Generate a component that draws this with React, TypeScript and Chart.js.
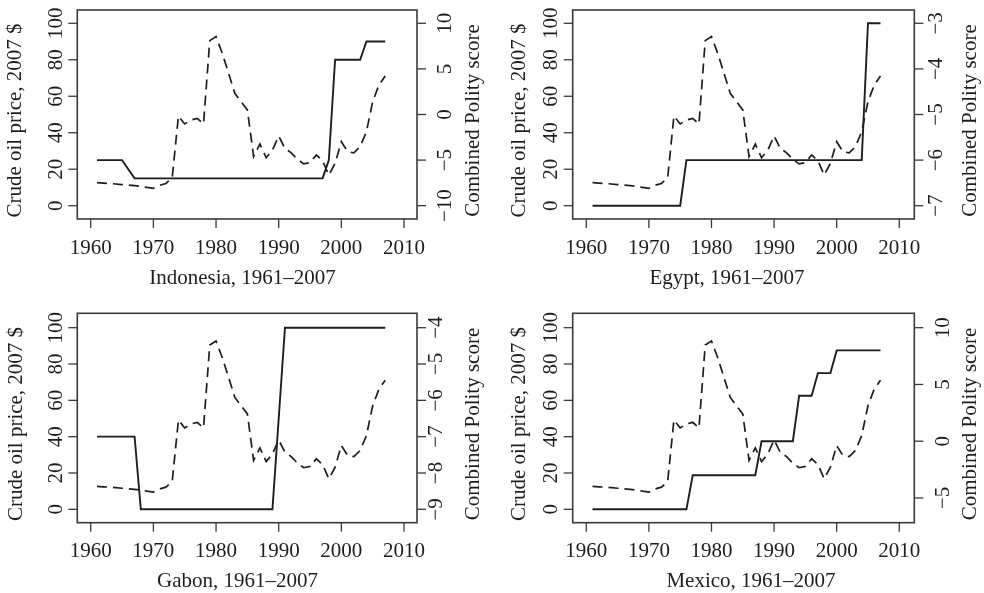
import React, { useEffect, useRef } from "react";
import { Chart, registerables } from "chart.js";

Chart.register(...registerables);

const years = [
  1961, 1962, 1963, 1964, 1965, 1966, 1967, 1968, 1969, 1970,
  1971, 1972, 1973, 1974, 1975, 1976, 1977, 1978, 1979, 1980,
  1981, 1982, 1983, 1984, 1985, 1986, 1987, 1988, 1989, 1990,
  1991, 1992, 1993, 1994, 1995, 1996, 1997, 1998, 1999, 2000,
  2001, 2002, 2003, 2004, 2005, 2006, 2007,
];

const oilPrice = [
  12.6, 12.4, 12.2, 11.9, 11.6, 11.3, 11.0, 10.6, 10.0, 9.5,
  11.2, 12.2, 15.2, 49.2, 44.8, 47.0, 47.9, 44.8, 90.5, 92.7,
  83.5, 72.6, 61.6, 57.0, 52.5, 26.9, 33.8, 26.3, 30.5, 38.2,
  31.4, 29.0, 25.4, 22.9, 23.6, 27.8, 24.7, 16.8, 23.2, 35.1,
  29.6, 29.0, 32.4, 40.6, 57.0, 66.2, 71.1,
];

const indonesiaPolity = [
  -5, -5, -5, -5, -5, -6, -7, -7, -7, -7,
  -7, -7, -7, -7, -7, -7, -7, -7, -7, -7,
  -7, -7, -7, -7, -7, -7, -7, -7, -7, -7,
  -7, -7, -7, -7, -7, -7, -7, -5, 6, 6,
  6, 6, 6, 8, 8, 8, 8,
];

const egyptPolity = [
  -7, -7, -7, -7, -7, -7, -7, -7, -7, -7,
  -7, -7, -7, -7, -7, -6, -6, -6, -6, -6,
  -6, -6, -6, -6, -6, -6, -6, -6, -6, -6,
  -6, -6, -6, -6, -6, -6, -6, -6, -6, -6,
  -6, -6, -6, -6, -3, -3, -3,
];

const gabonPolity = [
  -7, -7, -7, -7, -7, -7, -7, -9, -9, -9,
  -9, -9, -9, -9, -9, -9, -9, -9, -9, -9,
  -9, -9, -9, -9, -9, -9, -9, -9, -9, -6.5,
  -4, -4, -4, -4, -4, -4, -4, -4, -4, -4,
  -4, -4, -4, -4, -4, -4, -4,
];

const mexicoPolity = [
  -6, -6, -6, -6, -6, -6, -6, -6, -6, -6,
  -6, -6, -6, -6, -6, -6, -3, -3, -3, -3,
  -3, -3, -3, -3, -3, -3, -3, 0, 0, 0,
  0, 0, 0, 4, 4, 4, 6, 6, 6, 8,
  8, 8, 8, 8, 8, 8, 8,
];

const xTicks = [1960, 1970, 1980, 1990, 2000, 2010];
const leftTicks = [0, 20, 40, 60, 80, 100];
const indonesiaTicks = [-10, -5, 0, 5, 10];
const egyptTicks = [-7, -6, -5, -4, -3];
const gabonTicks = [-9, -8, -7, -6, -5, -4];
const mexicoTicks = [-5, 0, 5, 10];

const leftTitle = "Crude oil price, 2007 $";
const rightTitle = "Combined Polity score";

type Panel = {
  title: string;
  polity: number[];
  rightAt0: number;
  rightAt100: number;
  rightTicks: number[];
  cx: number;
  cy: number;
  w: number;
  h: number;
  box: { l: number; r: number; t: number; b: number };
  xMin: number;
  xMax: number;
  yMin: number;
  yMax: number;
  titleX: number;
  rightLabelOff: number;
  leftTitleOff: number;
};

const panels: Panel[] = [
  {
    title: "Indonesia, 1961–2007",
    polity: indonesiaPolity,
    rightAt0: -10,
    rightAt100: 10,
    rightTicks: indonesiaTicks,
    cx: 0, cy: 0, w: 492, h: 296,
    box: { l: 77.3, r: 417, t: 10, b: 219 },
    xMin: 1957.86, xMax: 2012.07, yMin: -7.29, yMax: 107.29,
    titleX: 242.5, rightLabelOff: 34, leftTitleOff: 56.6,
  },
  {
    title: "Egypt, 1961–2007",
    polity: egyptPolity,
    rightAt0: -7,
    rightAt100: -3,
    rightTicks: egyptTicks,
    cx: 492, cy: 0, w: 492, h: 296,
    box: { l: 80.7, r: 422.3, t: 10, b: 219 },
    xMin: 1957.83, xMax: 2012.4, yMin: -7.29, yMax: 107.29,
    titleX: 235, rightLabelOff: 28, leftTitleOff: 47.4,
  },
  {
    title: "Gabon, 1961–2007",
    polity: gabonPolity,
    rightAt0: -9,
    rightAt100: -4,
    rightTicks: gabonTicks,
    cx: 0, cy: 296, w: 492, h: 297,
    box: { l: 77.3, r: 417, t: 17.3, b: 226.7 },
    xMin: 1957.86, xMax: 2012.07, yMin: -7.38, yMax: 107.93,
    titleX: 237.5, rightLabelOff: 25, leftTitleOff: 55.6,
  },
  {
    title: "Mexico, 1961–2007",
    polity: mexicoPolity,
    rightAt0: -6,
    rightAt100: 10,
    rightTicks: mexicoTicks,
    cx: 492, cy: 296, w: 492, h: 297,
    box: { l: 80.7, r: 422.3, t: 17.3, b: 226.7 },
    xMin: 1957.83, xMax: 2012.4, yMin: -7.38, yMax: 107.93,
    titleX: 259, rightLabelOff: 34.4, leftTitleOff: 47.4,
  },
];

const FONT = '21px "Liberation Serif", "Times New Roman", serif';
const INK = "#1e1e1e";

function fmt(v: number): string {
  return v < 0 ? "\u2212" + String(Math.abs(v)) : String(v);
}

function makeAxesPlugin(p: Panel) {
  return {
    id: "rAxes",
    afterDraw(chart: any) {
      const { ctx, chartArea: a, scales } = chart;
      const xs = scales.x;
      const ys = scales.y;
      const y2 = scales.y2;
      ctx.save();
      ctx.strokeStyle = "#3a3a3a";
      ctx.lineWidth = 1.6;
      ctx.strokeRect(a.left, a.top, a.right - a.left, a.bottom - a.top);
      ctx.fillStyle = INK;
      ctx.font = FONT;
      ctx.lineWidth = 1.3;
      ctx.textAlign = "center";
      ctx.textBaseline = "alphabetic";
      for (const t of xTicks) {
        const x = xs.getPixelForValue(t);
        ctx.beginPath();
        ctx.moveTo(x, a.bottom);
        ctx.lineTo(x, a.bottom + 9);
        ctx.stroke();
        ctx.fillText(String(t), x, a.bottom + 34.5);
      }
      for (const t of leftTicks) {
        const y = ys.getPixelForValue(t);
        ctx.beginPath();
        ctx.moveTo(a.left - 9, y);
        ctx.lineTo(a.left, y);
        ctx.stroke();
        ctx.save();
        ctx.translate(a.left - 15.7, y);
        ctx.rotate(-Math.PI / 2);
        ctx.fillText(fmt(t), 0, 0);
        ctx.restore();
      }
      for (const t of p.rightTicks) {
        const y = y2.getPixelForValue(t);
        ctx.beginPath();
        ctx.moveTo(a.right, y);
        ctx.lineTo(a.right + 9, y);
        ctx.stroke();
        ctx.save();
        ctx.translate(a.right + p.rightLabelOff, y);
        ctx.rotate(-Math.PI / 2);
        ctx.fillText(fmt(t), 0, 0);
        ctx.restore();
      }
      const midY = (a.top + a.bottom) / 2 + 6;
      ctx.save();
      ctx.translate(a.left - p.leftTitleOff, midY);
      ctx.rotate(-Math.PI / 2);
      ctx.fillText(leftTitle, 0, 0);
      ctx.restore();
      ctx.save();
      ctx.translate(a.right + 62, midY);
      ctx.rotate(-Math.PI / 2);
      ctx.fillText(rightTitle, 0, 0);
      ctx.restore();
      ctx.fillText(p.title, p.titleX, a.bottom + 64.5);
      ctx.restore();
    },
  };
}

function PanelChart({ p }: { p: Panel }) {
  const ref = useRef<HTMLCanvasElement | null>(null);
  useEffect(() => {
    if (!ref.current) return;
    const k = (p.rightAt100 - p.rightAt0) / 100;
    const y2Min = p.rightAt0 + k * p.yMin;
    const y2Max = p.rightAt0 + k * p.yMax;
    const chart = new Chart(ref.current, {
      type: "line",
      data: {
        datasets: [
          {
            label: "Polity",
            data: years.map((yr, i) => ({ x: yr, y: p.polity[i] })),
            yAxisID: "y2",
            borderColor: INK,
            borderWidth: 1.9,
            pointRadius: 0,
            tension: 0,
            fill: false,
          },
          {
            label: "Oil price",
            data: years.map((yr, i) => ({ x: yr, y: oilPrice[i] })),
            yAxisID: "y",
            borderColor: INK,
            borderWidth: 1.7,
            borderDash: [10, 6],
            pointRadius: 0,
            tension: 0,
            fill: false,
          },
        ],
      },
      options: {
        responsive: false,
        animation: false,
        devicePixelRatio: 1,
        layout: {
          padding: {
            left: p.box.l,
            right: p.w - p.box.r,
            top: p.box.t,
            bottom: p.h - p.box.b,
          },
        },
        plugins: {
          legend: { display: false },
          tooltip: { enabled: false },
        },
        events: [],
        scales: {
          x: { type: "linear", min: p.xMin, max: p.xMax, display: false },
          y: { type: "linear", min: p.yMin, max: p.yMax, display: false },
          y2: { type: "linear", min: y2Min, max: y2Max, display: false, position: "right" },
        },
      },
      plugins: [makeAxesPlugin(p)],
    } as any);
    return () => chart.destroy();
  }, [p]);
  return (
    <canvas
      ref={ref}
      width={p.w}
      height={p.h}
      style={{ position: "absolute", left: p.cx, top: p.cy, width: p.w, height: p.h }}
    />
  );
}

export default function App() {
  return (
    <div
      style={{
        position: "fixed",
        left: 0,
        top: 0,
        width: 984,
        height: 593,
        background: "#ffffff",
        overflow: "hidden",
      }}
    >
      {panels.map((p) => (
        <PanelChart key={p.title} p={p} />
      ))}
    </div>
  );
}
